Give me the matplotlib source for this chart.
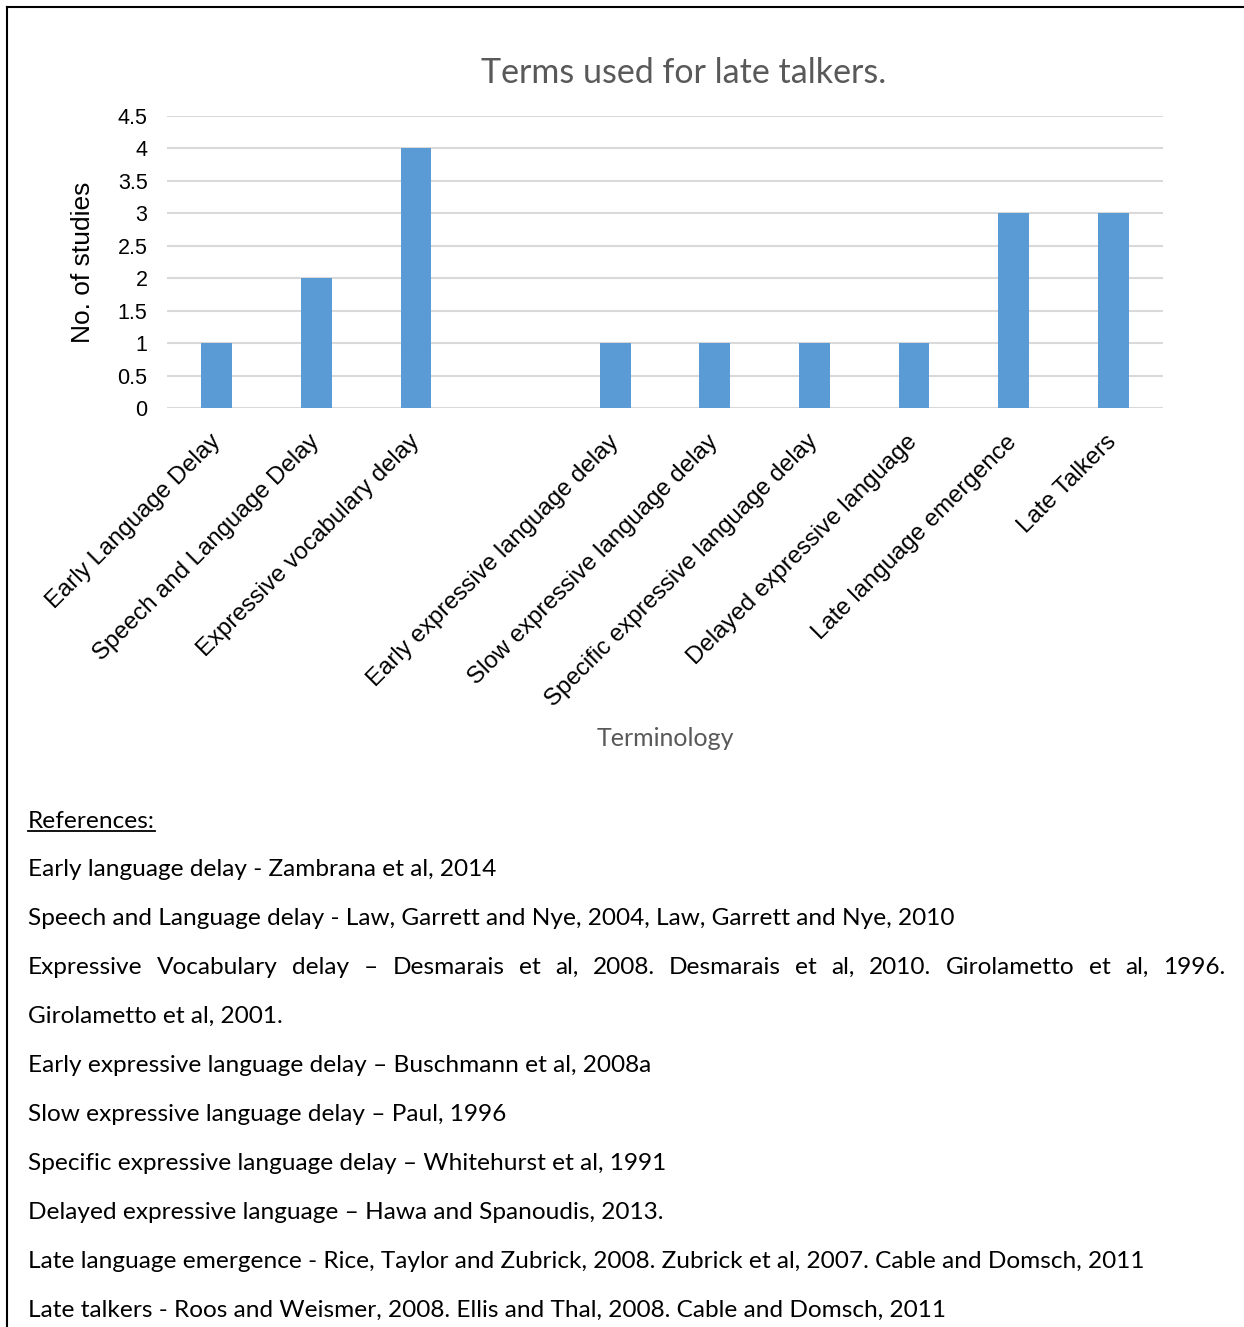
import matplotlib.pyplot as plt
from matplotlib.lines import Line2D

# Chart data
terms = [
    "Early Language Delay",
    "Speech and Language Delay",
    "Expressive vocabulary delay",
    "",
    "Early expressive language delay",
    "Slow expressive language delay",
    "Specific expressive language delay",
    "Delayed expressive language",
    "Late language emergence",
    "Late Talkers",
]
studies = [1, 2, 4, 0, 1, 1, 1, 1, 3, 3]
y_ticks = [0, 0.5, 1, 1.5, 2, 2.5, 3, 3.5, 4, 4.5]

references = [
    "Early language delay - Zambrana et al, 2014",
    "Speech and Language delay - Law, Garrett and Nye, 2004, Law, Garrett and Nye, 2010",
    "Expressive Vocabulary delay \u2013 Desmarais et al, 2008. Desmarais et al, 2010. Girolametto et al, 1996.",
    "Girolametto et al, 2001.",
    "Early expressive language delay \u2013 Buschmann et al, 2008a",
    "Slow expressive language delay \u2013 Paul, 1996",
    "Specific expressive language delay \u2013 Whitehurst et al, 1991",
    "Delayed expressive language \u2013 Hawa and Spanoudis, 2013.",
    "Late language emergence - Rice, Taylor and Zubrick, 2008. Zubrick et al, 2007. Cable and Domsch, 2011",
    "Late talkers - Roos and Weismer, 2008. Ellis and Thal, 2008. Cable and Domsch, 2011",
]
justified = [False, False, True, False, False, False, False, False, False, False]

W, H = 1244, 1327
fig = plt.figure(figsize=(W / 100, H / 100), dpi=100)

ax = fig.add_axes([167 / W, 1 - 408 / H, 996 / W, 292 / H])
x = range(len(terms))
ax.bar(x, studies, width=0.31, color="#5B9BD5", zorder=3)
ax.set_xlim(-0.5, len(terms) - 0.5)
ax.set_ylim(0, 4.5)
ax.set_yticks(y_ticks)
ax.set_yticklabels([f"{v:g}" for v in y_ticks], family="Liberation Sans", fontsize=15.5)
ax.set_xticks(list(x))
ax.set_xticklabels(terms, rotation=45, ha="right", va="center",
                   rotation_mode="anchor", family="Liberation Sans", fontsize=17.3)
ax.tick_params(length=0)
ax.tick_params(axis="x", pad=22)
ax.tick_params(axis="y", pad=14)
ax.grid(axis="y", color="#D9D9D9", linewidth=1.5, zorder=0)
for s in ax.spines.values():
    s.set_visible(False)
ax.set_ylabel("No. of studies", family="Liberation Sans", fontsize=19, labelpad=16)

fig.text(684 / W, 1 - 73 / H, "Terms used for late talkers.", family="Lato",
         fontsize=24.5, color="#595959", ha="center", va="center")
fig.text(665 / W, 1 - 738 / H, "Terminology", family="Lato",
         fontsize=18, color="#595959", ha="center", va="center")

# Page border (top and left)
fig.add_artist(Line2D([7 / W, 1], [1 - 7 / H, 1 - 7 / H], color="black", linewidth=1.5))
fig.add_artist(Line2D([7 / W, 7 / W], [0, 1 - 7 / H], color="black", linewidth=1.5))

# References block
ref_font = dict(family="Lato", fontsize=17.6, color="black", va="center")
left, right = 28, 1225
head = fig.text(left / W, 1 - 822 / H, "References:", **ref_font)
renderer = fig.canvas.get_renderer()
bb = head.get_window_extent(renderer)
fig.add_artist(Line2D([bb.x0 / W, bb.x1 / W], [(bb.y0 + 2) / H, (bb.y0 + 2) / H],
                      color="black", linewidth=1.3))

y0, step = 870, 48.9
for i, (line, just) in enumerate(zip(references, justified)):
    yy = 1 - (y0 + i * step) / H
    if not just:
        fig.text(left / W, yy, line, **ref_font)
        continue
    words = line.split(" ")
    arts = [fig.text(0, yy, w, **ref_font) for w in words]
    widths = [a.get_window_extent(renderer).width for a in arts]
    gap = (right - left - sum(widths)) / (len(words) - 1)
    pos = left
    for a, w in zip(arts, widths):
        a.set_x(pos / W)
        pos += w + gap

fig.savefig("out.png", dpi=100)
